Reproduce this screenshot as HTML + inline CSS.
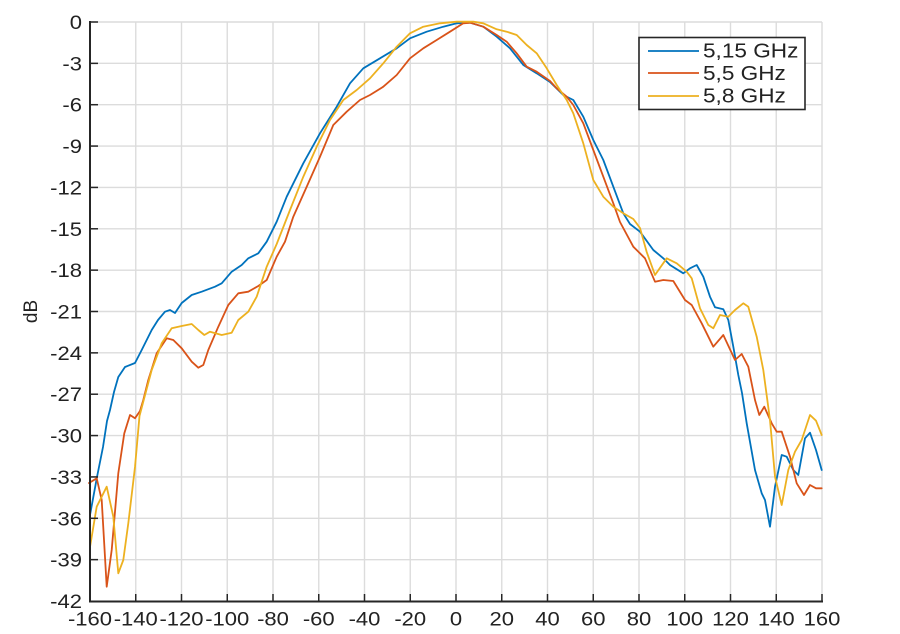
<!DOCTYPE html>
<html>
<head>
<meta charset="utf-8">
<style>
html,body{margin:0;padding:0;background:#fff;}
svg{display:block;}
text{font-family:"Liberation Sans",Arial,sans-serif;fill:#222;}
</style>
</head>
<body>
<svg width="900" height="634" viewBox="0 0 900 634" xmlns="http://www.w3.org/2000/svg">
<rect width="900" height="634" fill="#fff"/>
<!-- grid -->
<g stroke="#dcdcdc" stroke-width="1.4" fill="none">
<line x1="135.75" y1="22" x2="135.75" y2="601"/>
<line x1="181.5" y1="22" x2="181.5" y2="601"/>
<line x1="227.25" y1="22" x2="227.25" y2="601"/>
<line x1="273" y1="22" x2="273" y2="601"/>
<line x1="318.75" y1="22" x2="318.75" y2="601"/>
<line x1="364.5" y1="22" x2="364.5" y2="601"/>
<line x1="410.25" y1="22" x2="410.25" y2="601"/>
<line x1="456" y1="22" x2="456" y2="601"/>
<line x1="501.75" y1="22" x2="501.75" y2="601"/>
<line x1="547.5" y1="22" x2="547.5" y2="601"/>
<line x1="593.25" y1="22" x2="593.25" y2="601"/>
<line x1="639" y1="22" x2="639" y2="601"/>
<line x1="684.75" y1="22" x2="684.75" y2="601"/>
<line x1="730.5" y1="22" x2="730.5" y2="601"/>
<line x1="776.25" y1="22" x2="776.25" y2="601"/>
<line x1="822" y1="22" x2="822" y2="601"/>
<line x1="90" y1="22" x2="822" y2="22"/>
<line x1="90" y1="63.36" x2="822" y2="63.36"/>
<line x1="90" y1="104.71" x2="822" y2="104.71"/>
<line x1="90" y1="146.07" x2="822" y2="146.07"/>
<line x1="90" y1="187.43" x2="822" y2="187.43"/>
<line x1="90" y1="228.79" x2="822" y2="228.79"/>
<line x1="90" y1="270.14" x2="822" y2="270.14"/>
<line x1="90" y1="311.5" x2="822" y2="311.5"/>
<line x1="90" y1="352.86" x2="822" y2="352.86"/>
<line x1="90" y1="394.21" x2="822" y2="394.21"/>
<line x1="90" y1="435.57" x2="822" y2="435.57"/>
<line x1="90" y1="476.93" x2="822" y2="476.93"/>
<line x1="90" y1="518.29" x2="822" y2="518.29"/>
<line x1="90" y1="559.64" x2="822" y2="559.64"/>
</g>
<!-- series -->
<g fill="none" stroke-width="1.8" stroke-linejoin="round" stroke-linecap="round">
<polyline stroke="#0072BD" points="90,515 97,477 103,447 107,421 110,410 114,392 118.3,377 125,367 135,363 141.7,350 151.7,330 158,320 165,311.7 170,310 175,313 181.7,303 191.7,295 201.7,291.7 215,286.7 221.7,283.3 231.7,271.7 241.7,265 248.3,258.3 258.3,253.3 266.7,241.7 276.7,221.7 286.7,196.7 303.3,163.3 320,133.3 336.7,106.7 350,83.3 363.3,68.3 380,58.3 396.7,48.3 410,38.3 426.7,31.7 443.3,26.7 456.7,23.3 470,22.7 483.3,26.7 496.7,36.7 510,48.3 523.3,65 536.7,73.3 550,82 563.3,95 573.3,100 583.3,116.7 593.3,140 603.3,160 613.3,186.7 623.3,213.3 630,224 640,231.7 653.3,250 663.3,258.3 670,265 683.3,273.3 690,268.3 696.7,265 703.3,276.7 710,296.7 715,307.3 723.3,309.3 728.3,320 733.3,346.7 738.3,375 742,393 746.7,423.3 755,470 761.7,493.3 765,500 770,526.7 775,486.7 781.7,455 786.7,456.7 793.3,470 798.3,475 805,438.3 810,432.7 816,450 821.7,470"/>
<polyline stroke="#D95319" points="89,483 96.7,478.3 101.7,500 106.7,586.7 111.7,550 118.3,473.3 124.3,433.3 130,415 135,418.3 140,411 143.3,400 148.3,380 156.7,353.3 166.7,338.3 173.3,340 181.7,348.3 191.7,361.7 198.3,367.7 203.3,365 208.3,350 218.3,326.7 228.3,305 238.3,293.3 248.3,291.7 258.3,286 266.7,280 276.7,256.7 285,241.7 293.3,216.7 306.7,186.7 320,156.7 333.3,125 346.7,111.7 360,100 370,95 383.3,86.7 396.7,75 410,58.3 423.3,48.3 436.7,40 450,31.7 463.3,23.3 470,22.7 483.3,26.7 496.7,35 506.7,41.7 516.7,53.3 526.7,66.7 536.7,71.7 550,81 556.7,88.3 566.7,96.7 573.3,105 583.3,123.3 593.3,150 603.3,176.7 613.3,203.3 620,222 633.3,246.7 645,258.3 655,281.7 663.3,280 673.3,281 685,300 691.7,305 701.7,323.3 713.3,346.7 723.3,335 735,360 741.7,354 748.3,366.7 755,400 759.3,415 764.3,406.7 771.7,423.3 776.7,431.7 781.7,431.7 790,456.7 796.7,483.3 804,495 810,485 816,488.3 821.7,488.3"/>
<polyline stroke="#EDB120" points="90,547 96.7,506.7 106.7,486.7 113.3,516.7 118.3,573.3 123.3,560 128.3,523.3 135,467 139.5,416 143.3,401.7 151.7,370 161.7,343.3 171.7,328.3 181.7,326 191.7,324 198.3,330 204.3,335 210,331.7 221.7,335 231.7,332.7 238.3,320 248.3,311.7 256.7,296.7 266.7,266.7 276.7,244 290,210 303.3,176.7 316.7,146.7 330,120 343.3,100 356.7,90 370,78.3 383.3,63.3 396.7,46.7 410,33.3 423.3,26.7 440,23.3 456.7,21.7 473.3,21.7 483.3,23.3 496.7,29.3 506.7,31.7 516.7,35 526.7,45 536.7,53.3 546.7,68.3 556.7,85 566.7,100 573.3,113.3 583.3,143.3 593.3,180 603.3,196.7 613.3,206.7 623.3,213.3 633.3,219 640,228 646.7,252 655,275 666.7,258.3 676.7,263.3 686.7,271.7 691.7,278.3 700,308.3 708.3,325 713.3,328.3 720,315 728.3,316.7 735,310 743.3,303.3 748.3,306.7 756.7,336.7 763.3,370 770,420 775,476.7 781.7,505 788.3,470 795,451.7 801.7,440 810,415 816,420.7 821.7,435"/>
</g>
<!-- axes -->
<g stroke="#262626" stroke-width="2" fill="none">
<line x1="90" y1="21" x2="90" y2="602"/>
<line x1="89" y1="601.5" x2="823" y2="601.5"/>
</g>
<g stroke="#262626" stroke-width="1.5">
<!-- y ticks -->
<line x1="90" y1="22" x2="98" y2="22"/>
<line x1="90" y1="63.36" x2="98" y2="63.36"/>
<line x1="90" y1="104.71" x2="98" y2="104.71"/>
<line x1="90" y1="146.07" x2="98" y2="146.07"/>
<line x1="90" y1="187.43" x2="98" y2="187.43"/>
<line x1="90" y1="228.79" x2="98" y2="228.79"/>
<line x1="90" y1="270.14" x2="98" y2="270.14"/>
<line x1="90" y1="311.5" x2="98" y2="311.5"/>
<line x1="90" y1="352.86" x2="98" y2="352.86"/>
<line x1="90" y1="394.21" x2="98" y2="394.21"/>
<line x1="90" y1="435.57" x2="98" y2="435.57"/>
<line x1="90" y1="476.93" x2="98" y2="476.93"/>
<line x1="90" y1="518.29" x2="98" y2="518.29"/>
<line x1="90" y1="559.64" x2="98" y2="559.64"/>
<!-- x ticks -->
<line x1="135.75" y1="601" x2="135.75" y2="594"/>
<line x1="181.5" y1="601" x2="181.5" y2="594"/>
<line x1="227.25" y1="601" x2="227.25" y2="594"/>
<line x1="273" y1="601" x2="273" y2="594"/>
<line x1="318.75" y1="601" x2="318.75" y2="594"/>
<line x1="364.5" y1="601" x2="364.5" y2="594"/>
<line x1="410.25" y1="601" x2="410.25" y2="594"/>
<line x1="456" y1="601" x2="456" y2="594"/>
<line x1="501.75" y1="601" x2="501.75" y2="594"/>
<line x1="547.5" y1="601" x2="547.5" y2="594"/>
<line x1="593.25" y1="601" x2="593.25" y2="594"/>
<line x1="639" y1="601" x2="639" y2="594"/>
<line x1="684.75" y1="601" x2="684.75" y2="594"/>
<line x1="730.5" y1="601" x2="730.5" y2="594"/>
<line x1="776.25" y1="601" x2="776.25" y2="594"/>
<line x1="822" y1="601" x2="822" y2="594"/>
</g>
<!-- y labels -->
<g font-size="19.5" text-anchor="end">
<text transform="translate(82,29) scale(1.13,1)">0</text>
<text transform="translate(82,70.36) scale(1.13,1)">-3</text>
<text transform="translate(82,111.71) scale(1.13,1)">-6</text>
<text transform="translate(82,153.07) scale(1.13,1)">-9</text>
<text transform="translate(82,194.43) scale(1.13,1)">-12</text>
<text transform="translate(82,235.79) scale(1.13,1)">-15</text>
<text transform="translate(82,277.14) scale(1.13,1)">-18</text>
<text transform="translate(82,318.5) scale(1.13,1)">-21</text>
<text transform="translate(82,359.86) scale(1.13,1)">-24</text>
<text transform="translate(82,401.21) scale(1.13,1)">-27</text>
<text transform="translate(82,442.57) scale(1.13,1)">-30</text>
<text transform="translate(82,483.93) scale(1.13,1)">-33</text>
<text transform="translate(82,525.29) scale(1.13,1)">-36</text>
<text transform="translate(82,566.64) scale(1.13,1)">-39</text>
<text transform="translate(82,608) scale(1.13,1)">-42</text>
</g>
<!-- x labels -->
<g font-size="19.5" text-anchor="middle">
<text transform="translate(90,625.5) scale(1.13,1)">-160</text>
<text transform="translate(135.75,625.5) scale(1.13,1)">-140</text>
<text transform="translate(181.5,625.5) scale(1.13,1)">-120</text>
<text transform="translate(227.25,625.5) scale(1.13,1)">-100</text>
<text transform="translate(273,625.5) scale(1.13,1)">-80</text>
<text transform="translate(318.75,625.5) scale(1.13,1)">-60</text>
<text transform="translate(364.5,625.5) scale(1.13,1)">-40</text>
<text transform="translate(410.25,625.5) scale(1.13,1)">-20</text>
<text transform="translate(456,625.5) scale(1.13,1)">0</text>
<text transform="translate(501.75,625.5) scale(1.13,1)">20</text>
<text transform="translate(547.5,625.5) scale(1.13,1)">40</text>
<text transform="translate(593.25,625.5) scale(1.13,1)">60</text>
<text transform="translate(639,625.5) scale(1.13,1)">80</text>
<text transform="translate(684.75,625.5) scale(1.13,1)">100</text>
<text transform="translate(730.5,625.5) scale(1.13,1)">120</text>
<text transform="translate(776.25,625.5) scale(1.13,1)">140</text>
<text transform="translate(822,625.5) scale(1.13,1)">160</text>
</g>
<!-- y axis title -->
<text transform="translate(37,311.5) rotate(-90)" font-size="19" text-anchor="middle">dB</text>
<!-- legend -->
<rect x="639" y="37.5" width="166" height="72" fill="#fff" stroke="#262626" stroke-width="1.6"/>
<line x1="648" y1="51" x2="699" y2="51" stroke="#0072BD" stroke-width="1.8"/>
<line x1="648" y1="73" x2="699" y2="73" stroke="#D95319" stroke-width="1.8"/>
<line x1="648" y1="96" x2="699" y2="96" stroke="#EDB120" stroke-width="1.8"/>
<g font-size="20" fill="#111">
<text transform="translate(703,57.5) scale(1.13,1)">5,15 GHz</text>
<text transform="translate(703,80) scale(1.13,1)">5,5 GHz</text>
<text transform="translate(703,102.5) scale(1.13,1)">5,8 GHz</text>
</g>
</svg>
</body>
</html>
